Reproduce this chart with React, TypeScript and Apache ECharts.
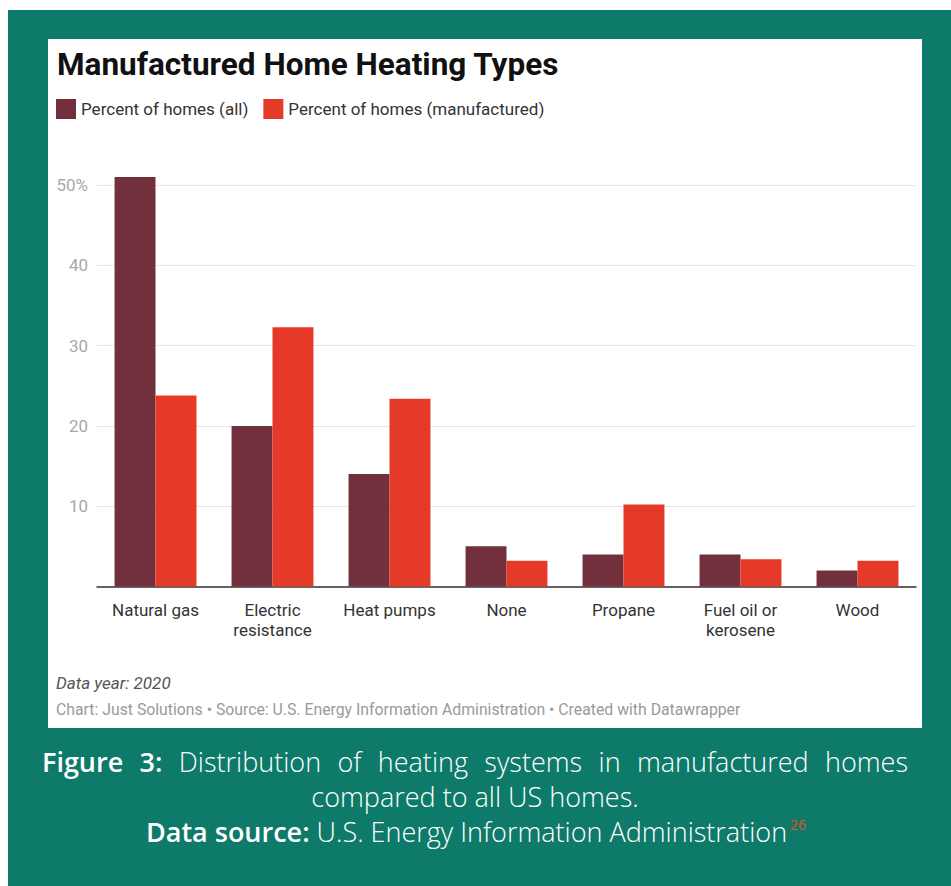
import React, { useEffect, useRef } from "react";
import * as echarts from "echarts";

const categories = ["Natural gas", "Electric\nresistance", "Heat pumps", "None", "Propane", "Fuel oil or\nkerosene", "Wood"];
const seriesNames = ["Percent of homes (all)", "Percent of homes (manufactured)"];
const allHomes = [51, 20, 14, 5, 4, 4, 2];
const manufacturedHomes = [23.8, 32.3, 23.4, 3.2, 10.2, 3.4, 3.2];
const yTicks = [0, 10, 20, 30, 40, 50];

const titleText = "Manufactured Home Heating Types";
const noteText = "Data year: 2020";
const creditText = "Chart: Just Solutions • Source: U.S. Energy Information Administration • Created with Datawrapper";
const captionLine1 = [
  { w: "Figure", b: true },
  { w: "3:", b: true },
  { w: "Distribution", b: false },
  { w: "of", b: false },
  { w: "heating", b: false },
  { w: "systems", b: false },
  { w: "in", b: false },
  { w: "manufactured", b: false },
  { w: "homes", b: false },
];
const captionLine2 = "compared to all US homes.";
const captionLine3Bold = "Data source:";
const captionLine3 = "U.S. Energy Information Administration";
const captionSup = "26";

const TEAL = "#0e7a69";
const MAROON = "#72303c";
const RED = "#e63a28";
const CAPFONT = "'Open Sans'";
const CAPSIZE = 27;

export default function App() {
  const ref = useRef<HTMLDivElement>(null);
  useEffect(() => {
    if (!ref.current) return;
    const chart = echarts.init(ref.current, undefined, { renderer: "svg" });

    const canvas = document.createElement("canvas");
    const ctx = canvas.getContext("2d")!;
    const fontOf = (bold: boolean) => `${bold ? "600" : "300"} ${CAPSIZE}px ${CAPFONT}`;
    const measure = (t: string, bold: boolean) => {
      ctx.font = fontOf(bold);
      return ctx.measureText(t).width;
    };
    const left = 42, right = 908;
    const widths = captionLine1.map((p) => measure(p.w, p.b));
    const total = widths.reduce((a, b) => a + b, 0);
    const gap = (right - left - total) / (captionLine1.length - 1);
    let cx = left;
    const line1Els: any[] = captionLine1.map((p, i) => {
      const el = {
        type: "text",
        x: cx,
        y: 761.5,
        style: {
          text: p.w,
          fill: "#ffffff",
          font: fontOf(p.b),
          verticalAlign: "middle",
          align: "left",
        },
      };
      cx += widths[i] + gap;
      return el;
    });

    chart.setOption({
      animation: false,
      textStyle: { fontFamily: "Roboto" },
      graphic: [
        { type: "rect", shape: { x: 8, y: 10, width: 943, height: 876 }, style: { fill: TEAL }, z: -10 },
        { type: "rect", shape: { x: 48, y: 39, width: 874, height: 689 }, style: { fill: "#ffffff" }, z: -9 },
        {
          type: "text", x: 57, y: 64,
          style: { text: titleText, fill: "#111111", font: "bold 31.5px Roboto", verticalAlign: "middle" },
        },
        {
          type: "text", x: 56, y: 683,
          style: { text: noteText, fill: "#555555", font: "italic 17px Roboto", verticalAlign: "middle" },
        },
        {
          type: "text", x: 56, y: 709.5,
          style: { text: creditText, fill: "#9a9a9a", font: "15.8px Roboto", verticalAlign: "middle" },
        },
        ...line1Els,
        {
          type: "text", x: 475, y: 796.5,
          style: { text: captionLine2, fill: "#ffffff", font: fontOf(false), align: "center", verticalAlign: "middle" },
        },
        {
          type: "text", x: 476, y: 831.5,
          style: {
            text: `{b|${captionLine3Bold} }{n|${captionLine3}}{s|${captionSup}}`,
            align: "center",
            verticalAlign: "middle",
            rich: {
              b: { fill: "#ffffff", fontFamily: CAPFONT, fontSize: CAPSIZE, fontWeight: 600, lineHeight: 30 },
              n: { fill: "#ffffff", fontFamily: CAPFONT, fontSize: CAPSIZE, fontWeight: 300, lineHeight: 30 },
              s: {
                fill: "#e0502a", fontFamily: CAPFONT, fontSize: 14, fontWeight: 400,
                verticalAlign: "top", lineHeight: 14, padding: [1, 0, 0, 3],
              },
            },
          },
        },
      ],
      legend: {
        left: 56,
        top: 99,
        padding: 0,
        icon: "rect",
        itemWidth: 20,
        itemHeight: 20,
        itemGap: 15,
        textStyle: { fontSize: 17, color: "#333333", fontFamily: "Roboto" },
        data: seriesNames,
      },
      grid: { left: 97, right: 35, top: 169, bottom: 299.5, outerBoundsMode: "none" },
      xAxis: {
        type: "category",
        data: categories,
        axisLine: { lineStyle: { color: "#333333", width: 1.5 } },
        axisTick: { alignWithLabel: true, length: 6, lineStyle: { color: "#333333", width: 1.5 } },
        axisLabel: { fontSize: 17, color: "#333333", lineHeight: 20, margin: 13, fontFamily: "Roboto", interval: 0 },
      },
      yAxis: {
        type: "value",
        min: 0,
        max: 52,
        interval: 10,
        axisLine: { show: false },
        axisTick: { show: false },
        splitLine: { showMaxLine: false, lineStyle: { color: "#e5e5e5", width: 1 } },
        axisLabel: {
          showMaxLabel: false,
          fontSize: 17,
          color: "#a8a8a8",
          margin: 9,
          fontFamily: "Roboto",
          formatter: (v: number) => (v === 0 || yTicks.indexOf(v) < 0 ? "" : v === 50 ? "50%" : String(v)),
        },
      },
      series: [
        {
          name: seriesNames[0], type: "bar", data: allHomes,
          itemStyle: { color: MAROON }, barGap: "0%", barCategoryGap: "30%",
        },
        {
          name: seriesNames[1], type: "bar", data: manufacturedHomes,
          itemStyle: { color: RED }, barGap: "0%", barCategoryGap: "30%",
        },
      ],
    });
    return () => chart.dispose();
  }, []);
  return <div ref={ref} style={{ position: "absolute", left: 0, top: 0, width: 951, height: 886 }} />;
}
